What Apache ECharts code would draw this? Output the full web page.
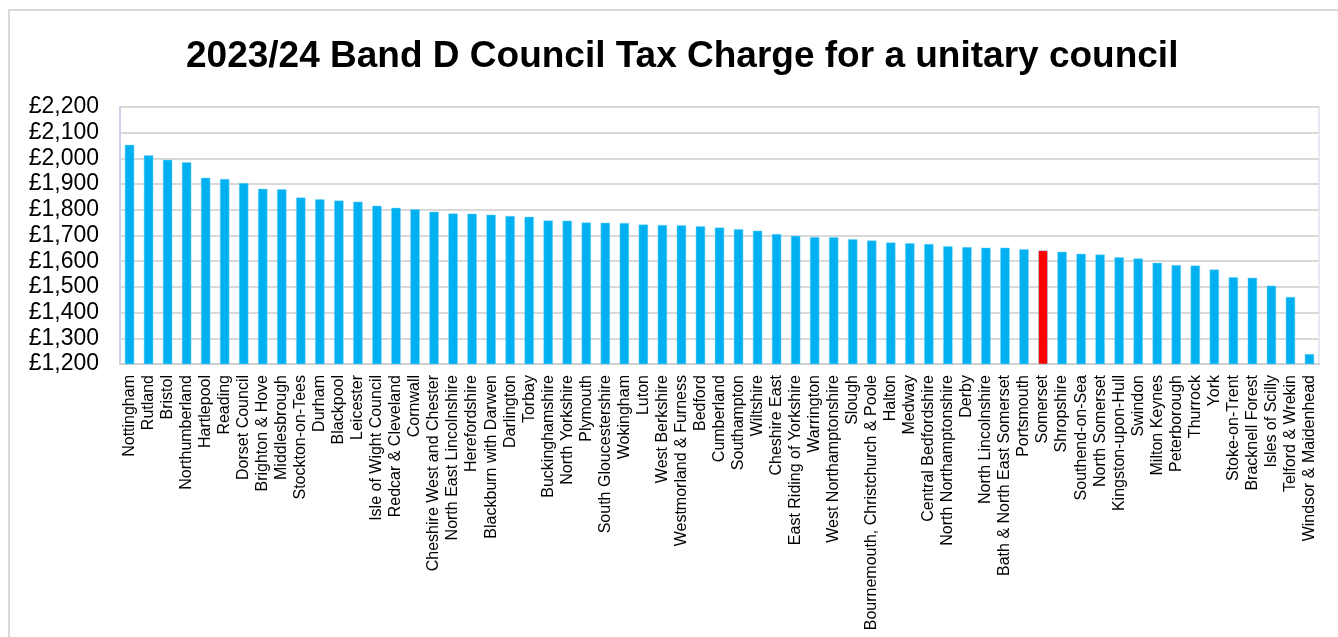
<!DOCTYPE html>
<html>
<head>
<meta charset="utf-8">
<script src="https://cdn.jsdelivr.net/npm/echarts@6/dist/echarts.min.js"></script>
<style>
html,body{margin:0;padding:0;background:#fff;}
#chart{width:1338px;height:637px;}
</style>
</head>
<body>
<div id="chart"></div>
<script>
const titleText = "2023/24 Band D Council Tax Charge for a unitary council";
const councils = ["Nottingham","Rutland","Bristol","Northumberland","Hartlepool","Reading","Dorset Council","Brighton & Hove","Middlesbrough","Stockton-on-Tees","Durham","Blackpool","Leicester","Isle of Wight Council","Redcar & Cleveland","Cornwall","Cheshire West and Chester","North East Lincolnshire","Herefordshire","Blackburn with Darwen","Darlington","Torbay","Buckinghamshire","North Yorkshire","Plymouth","South Gloucestershire","Wokingham","Luton","West Berkshire","Westmorland & Furness","Bedford","Cumberland","Southampton","Wiltshire","Cheshire East","East Riding of Yorkshire","Warrington","West Northamptonshire","Slough","Bournemouth, Christchurch & Poole","Halton","Medway","Central Bedfordshire","North Northamptonshire","Derby","North Lincolnshire","Bath & North East Somerset","Portsmouth","Somerset","Shropshire","Southend-on-Sea","North Somerset","Kingston-upon-Hull","Swindon","Milton Keynes","Peterborough","Thurrock","York","Stoke-on-Trent","Bracknell Forest","Isles of Scilly","Telford & Wrekin","Windsor & Maidenhead"];
const bandD = [2053,2012,1995,1985,1925,1920,1904,1882,1880,1848,1841,1836,1832,1816,1808,1802,1793,1786,1785,1781,1776,1773,1759,1758,1751,1750,1749,1743,1741,1740,1736,1731,1725,1719,1706,1699,1694,1693,1686,1681,1673,1670,1667,1658,1655,1653,1653,1647,1642,1637,1629,1626,1616,1611,1594,1585,1583,1568,1538,1536,1505,1461,1239];
const highlighted = "Somerset";
const yMin = 1200, yMax = 2200, yStep = 100;

const FONT = "'Liberation Sans', Arial, sans-serif";
const chart = echarts.init(document.getElementById('chart'));
chart.setOption({
  animation: false,
  backgroundColor: '#fff',
  graphic: [{
    type: 'rect', silent: true, z: 0,
    shape: {x: 9, y: 10, width: 1345, height: 640},
    style: {fill: 'none', stroke: '#d9d9d9', lineWidth: 2}
  }],
  title: {
    text: titleText,
    left: 181, top: 33,
    textStyle: {fontFamily: FONT, fontWeight: 'bold', fontSize: 37, color: '#000'}
  },
  grid: {left: 120, right: 19, top: 107, bottom: 273, show: true, borderColor: '#e6e9f2', borderWidth: 2},
  xAxis: {
    type: 'category', data: councils,
    axisLine: {lineStyle: {color: '#d0d0d0', width: 2}},
    axisTick: {show: false},
    axisLabel: {interval: 0, rotate: 90, margin: 11, fontFamily: FONT, fontSize: 16, color: '#000'}
  },
  yAxis: {
    type: 'value', min: yMin, max: yMax, interval: yStep,
    axisLine: {show: true, lineStyle: {color: '#c9d1e6', width: 2}},
    axisTick: {show: false},
    splitLine: {lineStyle: {color: '#d9d9d9', width: 2}},
    axisLabel: {margin: 21, fontFamily: FONT, fontSize: 23, color: '#000',
      formatter: v => '£' + v.toLocaleString('en-GB')}
  },
  series: [{
    type: 'bar', barWidth: 9.5,
    data: bandD.map((v, i) => ({
      value: v,
      itemStyle: {color: councils[i] === highlighted ? '#FF0000' : '#00B0F0'}
    })),
    itemStyle: {borderColor: 'rgba(120,215,250,0.8)', borderWidth: 0.6}
  }]
});
</script>
</body>
</html>
